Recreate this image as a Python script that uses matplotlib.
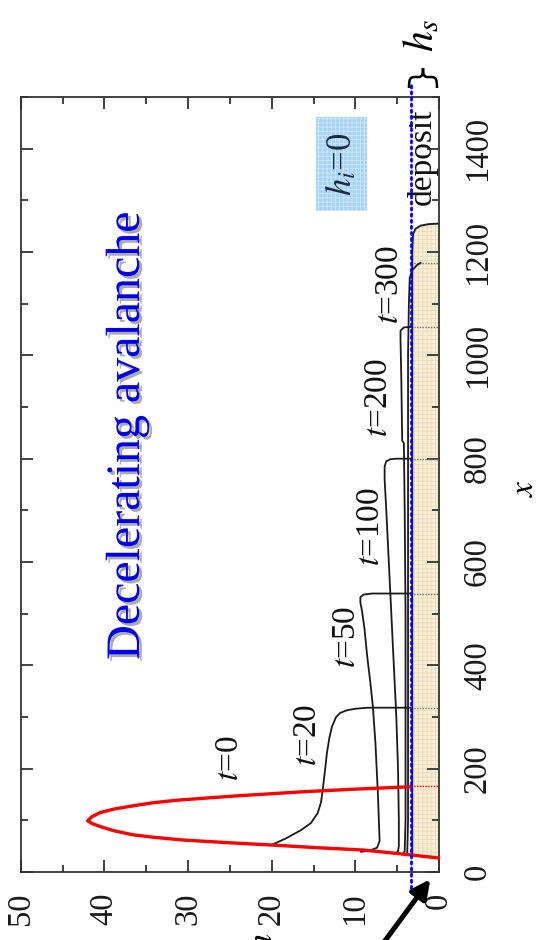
import matplotlib
matplotlib.use("Agg")
import matplotlib.pyplot as plt
from matplotlib import patheffects
from matplotlib.patches import FancyArrowPatch, Rectangle, PathPatch
from matplotlib.path import Path
from matplotlib.ticker import MultipleLocator

plt.rcParams["font.family"] = ["Liberation Serif", "DejaVu Serif"]
plt.rcParams["mathtext.fontset"] = "stix"
plt.rcParams["hatch.linewidth"] = 0.6

# ---- profiles h(x) at successive times ----
red_x = [27, 35, 42.6, 47, 52, 57, 62, 67, 72, 80, 88, 94, 99, 107, 115, 122, 128,
         134, 139, 147, 155, 160, 165]
red_h = [0, 4.5, 9.1, 14.5, 19.8, 25.5, 30.7, 34.0, 36.6, 38.9, 40.5, 41.5, 42.0,
         41.5, 40.5, 38.8, 36.6, 34.2, 31.3, 24.5, 16.6, 10.5, 3.4]

t20_x = [54, 65, 81, 95, 114, 135, 159, 200, 230, 260, 281, 300, 308, 313, 316, 318, 318]
t20_h = [19.8, 18.3, 16.5, 15.3, 14.5, 14.1, 13.9, 13.6, 13.4, 13.1, 12.8, 12.3, 11.8,
         11.0, 10.0, 8.5, 3.4]

t50_x = [39, 42, 47, 60, 150, 250, 319, 366, 420, 470, 505, 522, 532, 537, 539, 539]
t50_h = [9.3, 8.2, 7.4, 7.1, 7.3, 7.6, 7.9, 8.2, 8.6, 8.9, 9.2, 9.4, 9.4, 9.0, 8.0, 3.4]

t100_x = [36, 40, 50, 100, 200, 300, 400, 500, 600, 700, 760, 785, 795, 799, 800, 800]
t100_h = [5.2, 4.9, 4.8, 4.8, 4.9, 5.1, 5.4, 5.7, 6.0, 6.3, 6.5, 6.5, 6.3, 5.8, 5.0, 3.4]

t200_x = [34, 40, 100, 300, 500, 700, 830, 835, 950, 1030, 1048, 1054, 1055]
t200_h = [4.3, 4.1, 4.0, 4.0, 4.0, 4.1, 4.2, 4.4, 4.5, 4.6, 4.6, 4.2, 3.4]

t300_x = [33, 100, 400, 700, 1000, 1100, 1150, 1165, 1175, 1179]
t300_h = [3.8, 3.7, 3.7, 3.7, 3.7, 3.6, 3.5, 3.2, 2.6, 2.2]

deposit_x = [30, 100, 400, 700, 1000, 1200, 1235, 1245, 1251, 1254, 1255]
deposit_h = [3.2, 3.2, 3.2, 3.2, 3.2, 3.2, 3.1, 2.8, 2.2, 1.2, 0]

front_x = [318, 539, 800, 1055, 1179]
red_front_x = 167
h_s = 3.4

labels = ["$t$=0", "$t$=20", "$t$=50", "$t$=100", "$t$=200", "$t$=300"]
label_h = [25.0, 15.7, 11.0, 8.1, 7.2, 5.9]
label_x = [221, 265, 455, 668, 919, 1136]

h_ticks = [0, 10, 20, 30, 40, 50]
x_ticks = [0, 200, 400, 600, 800, 1000, 1200, 1400]

W, H = 542, 940
fig = plt.figure(figsize=(W / 100, H / 100), dpi=100)
ax = fig.add_axes([20.7 / W, (H - 872) / H, (439 - 20.7) / W, (872 - 97) / H])

ax.set_xlim(50, 0)
ax.set_ylim(0, 1500)

# deposit layer
ax.fill_betweenx(deposit_x, 0, deposit_h, facecolor="#f8efd6", edgecolor="none", zorder=1)
ax.fill_betweenx(deposit_x, 0, deposit_h, facecolor="none", edgecolor="#e9dcb8",
                 hatch="++++", linewidth=0, zorder=1.1)
ax.plot(deposit_h, deposit_x, color="#222222", lw=1.4, zorder=3)

# fronts inside the deposit
for fx in front_x:
    ax.plot([h_s, 0], [fx, fx], color="#777777", lw=1.0, ls=(0, (1, 1)), zorder=2)
ax.plot([h_s, 0], [red_front_x, red_front_x], color="red", lw=1.0, ls=(0, (1, 1)), zorder=2)

# time profiles
for hh, xx in [(t20_h, t20_x), (t50_h, t50_x), (t100_h, t100_x),
               (t200_h, t200_x), (t300_h, t300_x)]:
    ax.plot(hh, xx, color="#1a1a1a", lw=1.3, zorder=4)
ax.plot(red_h, red_x, color="red", lw=2.4, zorder=5, solid_joinstyle="round")

# static layer thickness
ax.plot([h_s, h_s], [-31, 1523], color="blue", lw=2.0, ls=(0, (0.8, 1.4)),
        dash_capstyle="round", clip_on=False, zorder=6)

for s, hh, xx in zip(labels, label_h, label_x):
    ax.text(hh, xx, s, rotation=90, ha="center", va="center", fontsize=24, color="#111111")

ax.text(37.3, 844, "Decelerating avalanche", rotation=90, ha="center", va="center",
        fontsize=34.5, color="#0000ee",
        path_effects=[patheffects.SimplePatchShadow(offset=(2, -2), shadow_rgbFace="#888888", alpha=0.7),
                      patheffects.Normal()])

ax.text(2.0, 1384, "deposit", rotation=90, ha="center", va="center", fontsize=24, color="#111111")

ax.add_patch(Rectangle((8.6, 1279), 6.1, 182, facecolor="#a6d3f6", edgecolor="none", zorder=2))
ax.add_patch(Rectangle((8.6, 1279), 6.1, 182, facecolor="none", edgecolor="#cfe7fb",
                       hatch="++++", linewidth=0, zorder=2.1))
ax.text(11.6, 1370, "$h_i$=0", rotation=90, ha="center", va="center", fontsize=25,
        color="#1a2a40", zorder=3)

# axes styling
ax.set_xticks(h_ticks)
ax.set_yticks(x_ticks)
ax.xaxis.set_minor_locator(MultipleLocator(5))
ax.yaxis.set_minor_locator(MultipleLocator(100))
ax.tick_params(which="both", direction="in", top=True, bottom=True, left=True, right=True,
               labelleft=False, labelright=True, labelbottom=True, labeltop=False,
               width=1.3, color="#333333", labelsize=23.5, labelcolor="#1a1a1a")
ax.tick_params(which="major", length=8.6)
ax.tick_params(which="minor", length=5)
ax.tick_params(axis="x", pad=15)
ax.tick_params(axis="y", pad=17)
for lab in ax.get_xticklabels():
    lab.set_rotation(90)
    lab.set_ha("center")
    lab.set_va("top")
for lab in ax.get_yticklabels():
    lab.set_rotation(90)
    lab.set_ha("left")
    lab.set_va("center")
for sp in ax.spines.values():
    sp.set_linewidth(1.3)
    sp.set_color("#333333")


def fpos(px, py):
    return px / W, 1 - py / H


fig.text(*fpos(525, 488), "$x$", rotation=90, ha="center", va="center", fontsize=24)
fig.text(*fpos(422, 35), "$h_s$", rotation=90, ha="center", va="center", fontsize=30)
fig.text(*fpos(263, 933), "$h$", rotation=90, ha="center", va="top", fontsize=26)

# curly brace over the static layer
brace_pts = [(409, 88), (409, 79), (410, 77), (415, 77), (419, 77),
             (422, 77), (423, 74), (423, 68),
             (423, 74), (424, 77), (427, 77), (431, 77),
             (436, 77), (437, 79), (437, 88)]
brace_codes = [Path.MOVETO, Path.CURVE4, Path.CURVE4, Path.CURVE4, Path.LINETO,
               Path.CURVE4, Path.CURVE4, Path.CURVE4,
               Path.CURVE4, Path.CURVE4, Path.CURVE4, Path.LINETO,
               Path.CURVE4, Path.CURVE4, Path.CURVE4]
brace = PathPatch(Path([fpos(px, py) for px, py in brace_pts], brace_codes),
                  transform=fig.transFigure, facecolor="none", edgecolor="black", lw=1.8)
fig.add_artist(brace)

arrow = FancyArrowPatch(fpos(345, 995), fpos(432, 877), transform=fig.transFigure,
                        arrowstyle="-|>", mutation_scale=28, lw=3.6, color="black")
fig.add_artist(arrow)

fig.savefig("out.png", dpi=100, facecolor="white")
